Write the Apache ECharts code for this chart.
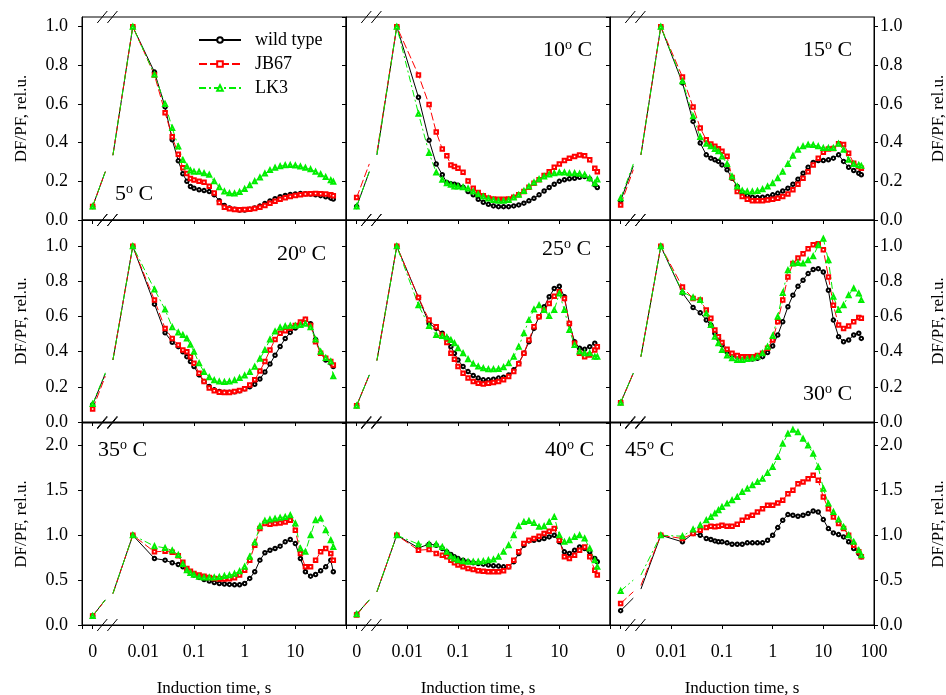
<!DOCTYPE html>
<html><head><meta charset="utf-8">
<script src="https://cdn.jsdelivr.net/npm/echarts@6/dist/echarts.min.js"></script>
<style>html,body{margin:0;padding:0;background:#fff}#c{width:946px;height:695px}</style>
</head><body><div id="c"></div>
<script>
// ---------- data ----------
const seriesNames = ['wild type', 'JB67', 'LK3'];
const seriesColors = ['#000000', '#ff0000', '#00ee00'];
const tempLabels = ['5', '10', '15', '20', '25', '30', '35', '40', '45'];
const xTickPowers = [-3, -2, -1, 0, 1, 2];
const xTickLabels = ['0', '0.01', '0.1', '1', '10', '100'];

// induction times (s) after the axis break
const times = [0.0062, 0.0166, 0.0269, 0.0372, 0.049, 0.0603, 0.0724, 0.0851, 0.1, 0.126, 0.158, 0.2,
  0.251, 0.316, 0.398, 0.501, 0.631, 0.794, 1, 1.26, 1.58, 2.0, 2.51, 3.16, 3.98, 5.01, 6.31, 7.94,
  10, 12.6, 15.8, 20, 25.1, 31.6, 39.8, 50.1, 56.2];

// [value at t=0, line end left of break, line start right of break] for wild type, JB67, LK3
const start5  = [[0.07, 0.25, 0.335], [0.07, 0.25, 0.335], [0.07, 0.25, 0.335]];
const start10 = [[0.07, 0.25, 0.337], [0.116, 0.29, 0.35], [0.07, 0.25, 0.337]];
const start15 = [[0.099, 0.28, 0.337], [0.078, 0.26, 0.337], [0.112, 0.29, 0.337]];
const start20 = [[0.098, 0.275, 0.353], [0.074, 0.26, 0.353], [0.102, 0.28, 0.353]];
const start25 = [[0.093, 0.268, 0.35], [0.093, 0.268, 0.35], [0.093, 0.268, 0.35]];
const start30 = [[0.11, 0.278, 0.372], [0.11, 0.278, 0.372], [0.11, 0.278, 0.372]];
const start35 = [[0.1, 0.28, 0.35], [0.1, 0.28, 0.35], [0.1, 0.28, 0.35]];
const start40 = [[0.12, 0.28, 0.37], [0.11, 0.28, 0.37], [0.12, 0.28, 0.37]];
const start45 = [[0.16, 0.30, 0.40], [0.24, 0.37, 0.44], [0.38, 0.50, 0.556]];

const wt5 = [1.0, 0.765, 0.585, 0.415, 0.306, 0.239, 0.2, 0.173, 0.164, 0.156, 0.152, 0.147, 0.13, 0.10, 0.075, 0.062, 0.055, 0.052, 0.052, 0.055, 0.062, 0.072, 0.085, 0.098, 0.11, 0.12, 0.127, 0.132, 0.135, 0.137, 0.136, 0.134, 0.13, 0.126, 0.12, 0.113, 0.108];
const jb5 = [1.0, 0.75, 0.555, 0.43, 0.34, 0.27, 0.24, 0.215, 0.207, 0.2, 0.195, 0.175, 0.14, 0.09, 0.066, 0.058, 0.054, 0.053, 0.054, 0.056, 0.06, 0.066, 0.075, 0.086, 0.097, 0.107, 0.115, 0.122, 0.127, 0.131, 0.134, 0.136, 0.137, 0.136, 0.134, 0.13, 0.125];
const lk5 = [1.0, 0.752, 0.6, 0.476, 0.38, 0.31, 0.277, 0.256, 0.25, 0.25, 0.242, 0.234, 0.2, 0.17, 0.148, 0.138, 0.137, 0.145, 0.16, 0.18, 0.2, 0.22, 0.24, 0.258, 0.27, 0.278, 0.283, 0.284, 0.282, 0.277, 0.27, 0.262, 0.25, 0.237, 0.222, 0.206, 0.198];

const wt10 = [1.0, 0.635, 0.412, 0.29, 0.234, 0.194, 0.187, 0.185, 0.18, 0.17, 0.147, 0.13, 0.107, 0.092, 0.081, 0.073, 0.069, 0.069, 0.069, 0.073, 0.078, 0.087, 0.099, 0.112, 0.13, 0.15, 0.168, 0.185, 0.2, 0.208, 0.213, 0.216, 0.221, 0.225, 0.213, 0.182, 0.168];
const jb10 = [1.0, 0.75, 0.597, 0.455, 0.367, 0.332, 0.285, 0.277, 0.268, 0.247, 0.202, 0.164, 0.142, 0.125, 0.114, 0.109, 0.107, 0.107, 0.109, 0.118, 0.13, 0.147, 0.17, 0.19, 0.208, 0.23, 0.25, 0.273, 0.29, 0.308, 0.32, 0.329, 0.336, 0.332, 0.311, 0.268, 0.25];
const lk10 = [1.0, 0.55, 0.346, 0.246, 0.208, 0.19, 0.182, 0.173, 0.173, 0.17, 0.163, 0.147, 0.133, 0.121, 0.111, 0.104, 0.099, 0.099, 0.104, 0.116, 0.13, 0.15, 0.173, 0.194, 0.211, 0.225, 0.235, 0.242, 0.246, 0.246, 0.242, 0.242, 0.239, 0.234, 0.216, 0.19, 0.21];

const wt15 = [1.0, 0.709, 0.51, 0.398, 0.337, 0.32, 0.311, 0.303, 0.285, 0.26, 0.216, 0.173, 0.142, 0.125, 0.118, 0.116, 0.118, 0.121, 0.13, 0.138, 0.15, 0.164, 0.185, 0.211, 0.242, 0.273, 0.298, 0.308, 0.308, 0.311, 0.32, 0.337, 0.303, 0.273, 0.256, 0.242, 0.234];
const jb15 = [1.0, 0.74, 0.585, 0.476, 0.415, 0.393, 0.381, 0.369, 0.355, 0.33, 0.22, 0.147, 0.121, 0.107, 0.1, 0.099, 0.099, 0.104, 0.107, 0.112, 0.121, 0.135, 0.156, 0.185, 0.216, 0.25, 0.285, 0.32, 0.35, 0.367, 0.37, 0.395, 0.39, 0.345, 0.294, 0.277, 0.268];
const lk15 = [1.0, 0.718, 0.536, 0.429, 0.394, 0.381, 0.367, 0.355, 0.329, 0.29, 0.225, 0.173, 0.152, 0.147, 0.147, 0.15, 0.159, 0.173, 0.19, 0.216, 0.25, 0.29, 0.332, 0.363, 0.381, 0.389, 0.388, 0.381, 0.372, 0.372, 0.372, 0.394, 0.363, 0.311, 0.29, 0.285, 0.28];

const wt20 = [1.0, 0.671, 0.508, 0.454, 0.429, 0.4, 0.372, 0.344, 0.316, 0.268, 0.231, 0.202, 0.183, 0.174, 0.17, 0.17, 0.172, 0.178, 0.189, 0.2, 0.215, 0.245, 0.285, 0.33, 0.38, 0.43, 0.475, 0.51, 0.535, 0.56, 0.583, 0.56, 0.47, 0.391, 0.353, 0.335, 0.316];
const jb20 = [1.0, 0.694, 0.533, 0.476, 0.439, 0.41, 0.4, 0.372, 0.335, 0.278, 0.231, 0.193, 0.178, 0.17, 0.168, 0.168, 0.174, 0.18, 0.19, 0.21, 0.24, 0.29, 0.345, 0.41, 0.47, 0.505, 0.52, 0.535, 0.55, 0.57, 0.585, 0.55, 0.457, 0.391, 0.363, 0.344, 0.325];
const lk20 = [1.0, 0.755, 0.64, 0.54, 0.51, 0.495, 0.475, 0.44, 0.4, 0.335, 0.285, 0.255, 0.238, 0.23, 0.228, 0.23, 0.238, 0.25, 0.265, 0.285, 0.315, 0.36, 0.41, 0.47, 0.515, 0.538, 0.545, 0.548, 0.548, 0.552, 0.56, 0.54, 0.47, 0.4, 0.365, 0.345, 0.26];

const wt25 = [1.0, 0.709, 0.561, 0.533, 0.505, 0.476, 0.429, 0.391, 0.353, 0.316, 0.287, 0.265, 0.25, 0.24, 0.24, 0.244, 0.25, 0.255, 0.268, 0.297, 0.335, 0.391, 0.457, 0.533, 0.599, 0.656, 0.713, 0.76, 0.773, 0.713, 0.561, 0.457, 0.42, 0.414, 0.429, 0.448, 0.429];
const jb25 = [1.0, 0.709, 0.58, 0.542, 0.495, 0.452, 0.391, 0.357, 0.316, 0.278, 0.25, 0.231, 0.221, 0.217, 0.221, 0.225, 0.231, 0.24, 0.259, 0.287, 0.331, 0.391, 0.467, 0.542, 0.599, 0.637, 0.675, 0.716, 0.741, 0.703, 0.561, 0.448, 0.391, 0.372, 0.382, 0.41, 0.429];
const lk25 = [1.0, 0.665, 0.546, 0.495, 0.49, 0.482, 0.467, 0.448, 0.42, 0.391, 0.357, 0.331, 0.316, 0.306, 0.301, 0.301, 0.302, 0.312, 0.335, 0.372, 0.429, 0.505, 0.58, 0.641, 0.665, 0.637, 0.603, 0.637, 0.732, 0.637, 0.524, 0.439, 0.401, 0.391, 0.391, 0.372, 0.372];

const wt30 = [1.0, 0.735, 0.652, 0.622, 0.58, 0.552, 0.505, 0.476, 0.439, 0.401, 0.382, 0.372, 0.367, 0.363, 0.359, 0.363, 0.372, 0.395, 0.433, 0.495, 0.571, 0.656, 0.722, 0.773, 0.807, 0.845, 0.868, 0.873, 0.854, 0.75, 0.58, 0.486, 0.457, 0.467, 0.495, 0.505, 0.476];
const jb30 = [1.0, 0.769, 0.703, 0.694, 0.637, 0.59, 0.524, 0.486, 0.452, 0.414, 0.391, 0.378, 0.372, 0.372, 0.372, 0.378, 0.391, 0.42, 0.467, 0.571, 0.694, 0.826, 0.902, 0.934, 0.958, 0.987, 1.009, 1.015, 0.981, 0.826, 0.665, 0.552, 0.533, 0.546, 0.571, 0.595, 0.59];
const lk30 = [1.0, 0.741, 0.709, 0.694, 0.618, 0.552, 0.486, 0.448, 0.41, 0.378, 0.363, 0.353, 0.353, 0.359, 0.363, 0.372, 0.391, 0.429, 0.49, 0.599, 0.735, 0.864, 0.902, 0.905, 0.902, 0.921, 0.943, 1.006, 1.043, 0.921, 0.713, 0.637, 0.665, 0.722, 0.76, 0.732, 0.694];

const wt35 = [1.0, 0.741, 0.722, 0.693, 0.674, 0.648, 0.611, 0.581, 0.556, 0.53, 0.507, 0.489, 0.474, 0.463, 0.456, 0.452, 0.448, 0.448, 0.463, 0.519, 0.593, 0.722, 0.804, 0.833, 0.852, 0.878, 0.926, 0.952, 0.907, 0.741, 0.593, 0.544, 0.563, 0.604, 0.648, 0.722, 0.593];
const jb35 = [1.0, 0.815, 0.822, 0.81, 0.77, 0.7, 0.63, 0.6, 0.575, 0.556, 0.544, 0.53, 0.519, 0.511, 0.511, 0.515, 0.526, 0.556, 0.611, 0.722, 0.889, 1.074, 1.13, 1.122, 1.13, 1.137, 1.148, 1.167, 1.056, 0.796, 0.648, 0.648, 0.722, 0.815, 0.852, 0.796, 0.722];
const lk35 = [1.0, 0.878, 0.859, 0.83, 0.78, 0.68, 0.61, 0.58, 0.56, 0.537, 0.53, 0.53, 0.53, 0.535, 0.545, 0.555, 0.57, 0.6, 0.65, 0.76, 0.92, 1.1, 1.16, 1.174, 1.185, 1.196, 1.204, 1.222, 1.13, 0.852, 0.815, 1.0, 1.167, 1.185, 1.056, 0.944, 0.87];

const wt40 = [1.0, 0.859, 0.9, 0.889, 0.852, 0.815, 0.785, 0.759, 0.741, 0.722, 0.704, 0.693, 0.685, 0.678, 0.667, 0.659, 0.656, 0.648, 0.648, 0.704, 0.796, 0.889, 0.937, 0.944, 0.952, 0.963, 0.981, 1.0, 0.926, 0.815, 0.796, 0.833, 0.87, 0.852, 0.815, 0.741, 0.704];
const jb40 = [1.0, 0.833, 0.841, 0.796, 0.778, 0.759, 0.722, 0.693, 0.667, 0.648, 0.63, 0.619, 0.604, 0.6, 0.593, 0.593, 0.593, 0.604, 0.648, 0.722, 0.815, 0.907, 0.944, 0.963, 0.989, 1.019, 1.044, 1.074, 0.944, 0.759, 0.741, 0.778, 0.833, 0.87, 0.759, 0.611, 0.556];
const lk40 = [1.0, 0.9, 0.9, 0.9, 0.87, 0.815, 0.767, 0.741, 0.722, 0.711, 0.704, 0.704, 0.704, 0.711, 0.722, 0.73, 0.759, 0.815, 0.889, 1.0, 1.1, 1.148, 1.159, 1.137, 1.093, 1.1, 1.148, 1.204, 1.0, 0.926, 0.944, 0.981, 1.0, 0.963, 0.852, 0.722, 0.648];

const wt45 = [1.0, 0.926, 1.019, 1.0, 0.963, 0.952, 0.937, 0.926, 0.926, 0.915, 0.9, 0.9, 0.9, 0.915, 0.915, 0.915, 0.915, 0.944, 1.0, 1.085, 1.167, 1.23, 1.222, 1.211, 1.222, 1.241, 1.27, 1.259, 1.174, 1.074, 1.026, 1.007, 0.981, 0.926, 0.852, 0.796, 0.759];
const jb45 = [1.0, 0.963, 1.019, 1.056, 1.085, 1.1, 1.093, 1.1, 1.111, 1.1, 1.1, 1.122, 1.167, 1.204, 1.222, 1.259, 1.296, 1.333, 1.333, 1.359, 1.389, 1.463, 1.5, 1.574, 1.593, 1.63, 1.667, 1.611, 1.426, 1.296, 1.204, 1.13, 1.074, 1.0, 0.889, 0.815, 0.759];
const lk45 = [1.0, 0.989, 1.063, 1.111, 1.167, 1.204, 1.241, 1.278, 1.315, 1.352, 1.389, 1.426, 1.481, 1.519, 1.556, 1.593, 1.63, 1.693, 1.759, 1.87, 2.019, 2.13, 2.174, 2.148, 2.074, 2.0, 1.907, 1.759, 1.519, 1.352, 1.259, 1.174, 1.093, 1.0, 0.926, 0.833, 0.778];

const panelSeries = [[wt5, jb5, lk5], [wt10, jb10, lk10], [wt15, jb15, lk15],
  [wt20, jb20, lk20], [wt25, jb25, lk25], [wt30, jb30, lk30],
  [wt35, jb35, lk35], [wt40, jb40, lk40], [wt45, jb45, lk45]];
const panelStart = [start5, start10, start15, start20, start25, start30, start35, start40, start45];

// ---------- axis structure / layout ----------
const FONT = '"Liberation Serif","Times New Roman",serif';
const colLeft = [82, 346, 610], colW = 264;
const rowTop = [17, 220, 423], rowH = [203, 202, 202];
const rowMax = [1.05, 1.15, 2.25], rowInt = [0.2, 0.2, 0.5];
const X_MIN = Math.pow(10, -3.21), X_MAX = 100;
const ZERO_POS = 0.001;           // axis position labelled "0"
const BRK_LO = Math.pow(10, -2.75); // where lines stop left of the break
const BRK_HI = Math.pow(10, -2.6);  // where lines resume right of the break
const BREAK_MARKS = [Math.pow(10, -2.81), Math.pow(10, -2.61)];
const tempPos = [[115, 182], [543, 38], [803, 38], [277, 242], [542, 237], [803, 382], [98, 438], [545, 438], [625, 438]];
const symbols = ['emptyCircle', 'emptyRect', 'emptyTriangle'];
const symbolSizes = [3.5, 3.5, 4];
const dashes = ['solid', [8, 3], [7, 3, 2, 3]];

const grids = [], xAxes = [], yAxes = [], series = [], titles = [];
for (let p = 0; p < 9; p++) {
  const r = Math.floor(p / 3), c = p % 3;
  grids.push({left: colLeft[c], top: rowTop[r], width: colW, height: rowH[r], show: true,
    borderColor: '#000', borderWidth: 1, backgroundColor: 'transparent',
    containLabel: false, outerBoundsMode: 'none'});
  xAxes.push({
    type: 'log', logBase: 10, gridIndex: p, min: X_MIN, max: X_MAX,
    axisLine: {show: true, lineStyle: {color: '#000', width: 1}},
    axisTick: {show: true, length: 4, lineStyle: {color: '#000'}},
    minorTick: {show: false}, splitLine: {show: false},
    axisLabel: {show: r === 2, margin: 18, fontFamily: FONT, fontSize: 18, color: '#000',
      formatter: v => {
        const e = Math.log10(v), k = Math.round(e);
        if (Math.abs(e - k) > 1e-6) return '';
        const i = xTickPowers.indexOf(k);
        if (i < 0) return '';
        if (k === 2 && c !== 2) return '';
        return xTickLabels[i];
      }},
    name: r === 2 ? 'Induction time, s' : '', nameLocation: 'middle', nameGap: 55,
    nameTextStyle: {fontFamily: FONT, fontSize: 17, color: '#000'}
  });
  const yBase = {
    type: 'value', gridIndex: p, min: 0, max: rowMax[r], interval: rowInt[r],
    axisLine: {show: true, lineStyle: {color: '#000', width: 1}},
    axisTick: {show: true, length: 4, lineStyle: {color: '#000'}},
    splitLine: {show: false},
    nameLocation: 'middle', nameRotate: 90,
    nameTextStyle: {fontFamily: FONT, fontSize: 17, color: '#000'}
  };
  const yLeftIdx = yAxes.length;
  yAxes.push(Object.assign({}, yBase, {
    position: 'left',
    axisLabel: {show: c === 0, margin: 14, fontFamily: FONT, fontSize: 18, color: '#000',
      showMaxLabel: false, formatter: v => v.toFixed(1)},
    name: c === 0 ? 'DF/PF, rel.u.' : '', nameGap: 52
  }));
  if (c === 2) {
    yAxes.push(Object.assign({}, yBase, {
      position: 'right',
      axisLabel: {show: true, margin: 6, fontFamily: FONT, fontSize: 18, color: '#000',
        showMaxLabel: false, formatter: v => v.toFixed(1)},
      name: 'DF/PF, rel.u.', nameGap: 56
    }));
  }
  for (let k = 0; k < 3; k++) {
    const st = panelStart[p][k];
    const data = [
      {value: [ZERO_POS, st[0]]},
      {value: [BRK_LO, st[1]], symbol: 'none'},
      {value: [BRK_LO, '-']},
      {value: [BRK_HI, st[2]], symbol: 'none'}
    ];
    panelSeries[p][k].forEach((v, i) => data.push({value: [times[i], v]}));
    series.push({
      type: 'line', name: seriesNames[k], xAxisIndex: p, yAxisIndex: yLeftIdx,
      data, symbol: symbols[k], symbolSize: symbolSizes[k], showAllSymbol: true,
      lineStyle: {color: seriesColors[k], width: 1, type: dashes[k]},
      itemStyle: {color: seriesColors[k], borderColor: seriesColors[k], borderWidth: 1},
      connectNulls: false, animation: false, silent: true
    });
  }
  series.push({
    type: 'custom', xAxisIndex: p, yAxisIndex: yLeftIdx, silent: true, clip: false, z: 5,
    data: [[BREAK_MARKS[0], 0]],
    renderItem: (params, api) => {
      const children = [];
      for (const bx of BREAK_MARKS) {
        for (const yv of [0, rowMax[r]]) {
          const pt = api.coord([bx, yv]);
          children.push({type: 'line',
            shape: {x1: pt[0] - 5, y1: pt[1] + 6, x2: pt[0] + 5, y2: pt[1] - 6},
            style: {stroke: '#000', lineWidth: 1}});
        }
      }
      return {type: 'group', children};
    }
  });
  titles.push({
    text: '{n|' + tempLabels[p] + '}{s|o}{n| C}',
    left: tempPos[p][0], top: tempPos[p][1], padding: 0,
    textStyle: {fontFamily: FONT, fontSize: 22, fontWeight: 'normal', color: '#000',
      rich: {
        n: {fontFamily: FONT, fontSize: 22, lineHeight: 24, color: '#000'},
        s: {fontFamily: FONT, fontSize: 14, lineHeight: 14, verticalAlign: 'top', color: '#000'}
      }}
  });
}

const chart = echarts.init(document.getElementById('c'), null, {renderer: 'canvas'});
chart.setOption({
  backgroundColor: '#fff',
  animation: false,
  title: titles,
  legend: {
    data: seriesNames, orient: 'vertical', left: 198, top: 31, padding: 0,
    itemWidth: 42, itemHeight: 7, itemGap: 6,
    textStyle: {fontFamily: FONT, fontSize: 18, color: '#000', padding: [0, 0, 0, 9]},
    selectedMode: false
  },
  grid: grids, xAxis: xAxes, yAxis: yAxes, series
});
</script></body></html>
